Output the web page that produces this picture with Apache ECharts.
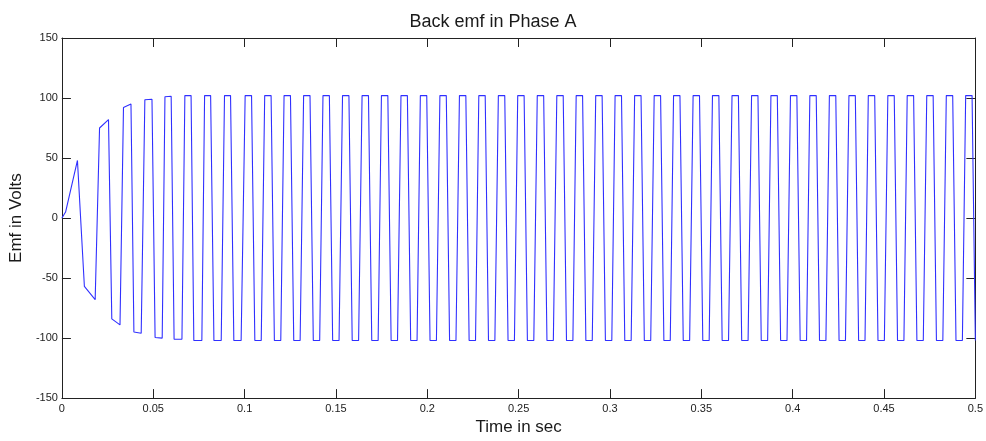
<!DOCTYPE html>
<html>
<head>
<meta charset="utf-8">
<script src="https://cdn.jsdelivr.net/npm/echarts@6/dist/echarts.min.js"></script>
<style>
html,body{margin:0;padding:0;background:#fff;}
#chart{width:986px;height:441px;}
</style>
</head>
<body>
<div id="chart"></div>
<script>
// ---- data ----
const titleText = 'Back emf in Phase A';
const xName = 'Time in sec';
const yName = 'Emf in Volts';
const xTicks = [0, 0.05, 0.1, 0.15, 0.2, 0.25, 0.3, 0.35, 0.4, 0.45, 0.5];
const yTicks = [-150, -100, -50, 0, 50, 100, 150];

// start-up transient (motor accelerating)
const transientTime = [0, 0.0020, 0.0085, 0.0123, 0.0182, 0.0206, 0.0255, 0.0273, 0.0318, 0.0337, 0.0378,
  0.0394, 0.0434, 0.0454, 0.0493, 0.0510, 0.0549, 0.0564, 0.0598, 0.0614, 0.0657, 0.0673, 0.0707,
  0.0722, 0.0766, 0.0781, 0.0814, 0.0832, 0.0872, 0.0890, 0.0923, 0.0941, 0.0981];
const transientEmf = [0, 5, 48, -57, -68, 75, 82, -84, -89, 92, 95,
  -95, -96, 98.5, 99, -99.5, -100, 101, 101.5, -101, -101, 102, 102,
  -102, -102, 102, 102, -102, -102, 102, 102, -102, -102];

// steady trapezoidal back emf: corners of each cycle
const steadyTime = [
  0.1003, 0.1038, 0.1056, 0.1091,
  0.1110, 0.1145, 0.1163, 0.1198,
  0.1216, 0.1251, 0.1269, 0.1304,
  0.1323, 0.1358, 0.1376, 0.1411,
  0.1429, 0.1464, 0.1482, 0.1517,
  0.1536, 0.1571, 0.1589, 0.1624,
  0.1643, 0.1678, 0.1696, 0.1731,
  0.1749, 0.1784, 0.1802, 0.1837,
  0.1856, 0.1891, 0.1909, 0.1944,
  0.1962, 0.1997, 0.2015, 0.2050,
  0.2069, 0.2104, 0.2122, 0.2157,
  0.2176, 0.2211, 0.2229, 0.2264,
  0.2282, 0.2317, 0.2335, 0.2370,
  0.2389, 0.2424, 0.2442, 0.2477,
  0.2495, 0.2530, 0.2548, 0.2583,
  0.2602, 0.2637, 0.2655, 0.2690,
  0.2709, 0.2744, 0.2762, 0.2797,
  0.2815, 0.2850, 0.2868, 0.2903,
  0.2922, 0.2957, 0.2975, 0.3010,
  0.3028, 0.3063, 0.3081, 0.3116,
  0.3135, 0.3170, 0.3188, 0.3223,
  0.3242, 0.3277, 0.3295, 0.3330,
  0.3348, 0.3383, 0.3401, 0.3436,
  0.3455, 0.3490, 0.3508, 0.3543,
  0.3561, 0.3596, 0.3614, 0.3649,
  0.3668, 0.3703, 0.3721, 0.3756,
  0.3775, 0.3810, 0.3828, 0.3863,
  0.3881, 0.3916, 0.3934, 0.3969,
  0.3988, 0.4023, 0.4041, 0.4076,
  0.4094, 0.4129, 0.4147, 0.4182,
  0.4201, 0.4236, 0.4254, 0.4289,
  0.4308, 0.4343, 0.4361, 0.4396,
  0.4414, 0.4449, 0.4467, 0.4502,
  0.4521, 0.4556, 0.4574, 0.4609,
  0.4627, 0.4662, 0.4680, 0.4715,
  0.4734, 0.4769, 0.4787, 0.4822,
  0.4841, 0.4876, 0.4894, 0.4929,
  0.4947, 0.4982, 0.5000
];
const steadyEmf = [
  102, 102, -102, -102,
  102, 102, -102, -102,
  102, 102, -102, -102,
  102, 102, -102, -102,
  102, 102, -102, -102,
  102, 102, -102, -102,
  102, 102, -102, -102,
  102, 102, -102, -102,
  102, 102, -102, -102,
  102, 102, -102, -102,
  102, 102, -102, -102,
  102, 102, -102, -102,
  102, 102, -102, -102,
  102, 102, -102, -102,
  102, 102, -102, -102,
  102, 102, -102, -102,
  102, 102, -102, -102,
  102, 102, -102, -102,
  102, 102, -102, -102,
  102, 102, -102, -102,
  102, 102, -102, -102,
  102, 102, -102, -102,
  102, 102, -102, -102,
  102, 102, -102, -102,
  102, 102, -102, -102,
  102, 102, -102, -102,
  102, 102, -102, -102,
  102, 102, -102, -102,
  102, 102, -102, -102,
  102, 102, -102, -102,
  102, 102, -102, -102,
  102, 102, -102, -102,
  102, 102, -102, -102,
  102, 102, -102, -102,
  102, 102, -102, -102,
  102, 102, -102, -102,
  102, 102, -102, -102,
  102, 102, -102
];

// ---- build chart ----
const time = transientTime.concat(steadyTime);
const emf = transientEmf.concat(steadyEmf);
const seriesData = time.map((t, i) => [t, emf[i]]);

const FONT = '"Liberation Sans", Arial, Helvetica, sans-serif';
const AXIS_COLOR = '#222';
const xMin = xTicks[0], xMax = xTicks[xTicks.length - 1], xInt = xTicks[1] - xTicks[0];
const yMin = yTicks[0], yMax = yTicks[yTicks.length - 1], yInt = yTicks[1] - yTicks[0];

const chart = echarts.init(document.getElementById('chart'), null, {renderer: 'canvas'});
const baseAxisLine = {show: true, onZero: false, lineStyle: {color: AXIS_COLOR, width: 1}};
const tickInside = {show: true, inside: true, length: 9, lineStyle: {color: AXIS_COLOR, width: 1}};

chart.setOption({
  animation: false,
  backgroundColor: '#fff',
  title: {
    text: titleText,
    left: 'center',
    top: 13,
    padding: 0,
    textStyle: {fontFamily: FONT, fontSize: 18, fontWeight: 'normal', color: '#1a1a1a'}
  },
  grid: {left: 61, right: 9, top: 38, bottom: 41, containLabel: false},
  xAxis: [{
    type: 'value', position: 'bottom', min: xMin, max: xMax, interval: xInt,
    name: xName, nameLocation: 'middle', nameGap: 20,
    nameTextStyle: {fontFamily: FONT, fontSize: 17, color: '#1a1a1a'},
    axisLine: baseAxisLine, axisTick: tickInside,
    axisLabel: {fontFamily: FONT, fontSize: 11, color: '#222', margin: 5},
    splitLine: {show: false}
  }, {
    type: 'value', position: 'top', min: xMin, max: xMax, interval: xInt,
    axisLine: baseAxisLine, axisTick: tickInside,
    axisLabel: {show: false}, splitLine: {show: false}
  }],
  yAxis: [{
    type: 'value', position: 'left', min: yMin, max: yMax, interval: yInt,
    name: yName, nameLocation: 'middle', nameGap: 34,
    nameTextStyle: {fontFamily: FONT, fontSize: 17, color: '#1a1a1a'},
    axisLine: baseAxisLine, axisTick: tickInside,
    axisLabel: {fontFamily: FONT, fontSize: 11, color: '#222', margin: 4},
    splitLine: {show: false}
  }, {
    type: 'value', position: 'right', min: yMin, max: yMax, interval: yInt,
    axisLine: baseAxisLine, axisTick: tickInside,
    axisLabel: {show: false}, splitLine: {show: false}
  }],
  series: [{
    type: 'line',
    data: seriesData,
    showSymbol: false,
    symbol: 'none',
    lineStyle: {color: '#3030ff', width: 1.1},
    itemStyle: {color: '#3030ff'},
    clip: true
  }]
});
</script>
</body>
</html>
